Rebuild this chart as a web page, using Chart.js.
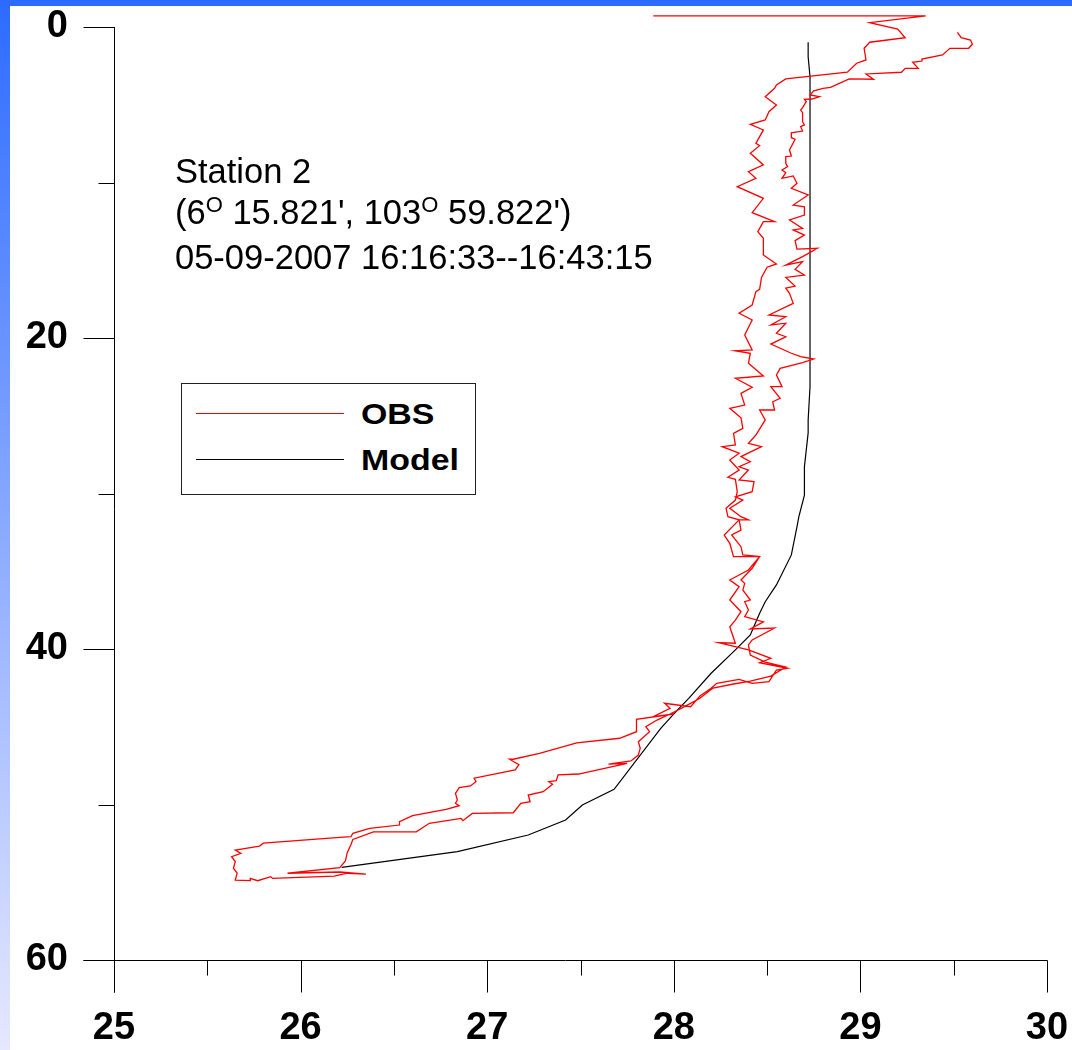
<!DOCTYPE html>
<html>
<head>
<meta charset="utf-8">
<title>Station 2 temperature profile</title>
<script src="https://cdn.jsdelivr.net/npm/chart.js@4.4.0/dist/chart.umd.min.js"></script>
<style>
	body { margin: 0; width: 1072px; height: 1050px; position: relative; overflow: hidden; background: #fff; font-family: 'Liberation Sans', Arial, sans-serif; }
	.top-bar { position: absolute; left: 0; top: 0; width: 1072px; height: 6px; background: #2d6bff; }
	.side-bar { position: absolute; left: 0; top: 0; width: 10px; height: 1050px; background: linear-gradient(#2d6bff, #e6e8ff); }
	#myChart { position: absolute; left: 0; top: 0; }
	.station-note { position: absolute; left: 175px; top: 151px; font-size: 34.5px; line-height: 41px; color: #000; white-space: nowrap; }
	.station-note .deg { font-size: 22px; position: relative; top: -12px; }
	.legend-box { position: absolute; left: 181px; top: 383px; width: 293px; height: 110px; border: 1px solid #222; background: #fff; }
	.legend-item { position: absolute; left: 0; width: 100%; height: 40px; }
	.legend-line { position: absolute; left: 14px; top: 19px; width: 148px; height: 0; }
	.legend-text { position: absolute; left: 179px; top: 0; line-height: 40px; font-size: 30px; font-weight: bold; color: #000; transform: scaleX(1.13); transform-origin: left center; }
</style>
</head>
<body>
<div class="top-bar"></div>
<div class="side-bar"></div>
<canvas id="myChart" width="1072" height="1050"></canvas>
<div class="station-note">
	Station 2<br>
	(6<span class="deg">O</span> 15.821', 103<span class="deg">O</span> 59.822')<br>
	05-09-2007 16:16:33--16:43:15
</div>
<div class="legend-box" id="legend-box"></div>

<script>
// 축 눈금
const xMajorTicks = [25, 26, 27, 28, 29, 30];
const xMinorTicks = [25.5, 26.5, 27.5, 28.5, 29.5];
const yMajorTicks = [0, 20, 40, 60];
const yMinorTicks = [10, 30, 50];

// OBS 하강 (수온, 수심)
const obsDownTemp = [
	27.89, 29.35, 29.05, 29.20, 29.24, 29.05, 29.02, 29.03, 28.98, 28.93,
	28.60, 28.55, 28.54, 28.49, 28.55, 28.51, 28.49, 28.41, 28.48, 28.44,
	28.46, 28.41, 28.48, 28.40, 28.44, 28.34, 28.48, 28.42, 28.54, 28.48,
	28.45, 28.48, 28.48, 28.55, 28.50, 28.47, 28.46, 28.44, 28.42, 28.35,
	28.42, 28.38, 28.42, 28.33, 28.41, 28.40, 28.48, 28.33, 28.42, 28.36,
	28.38, 28.30, 28.36, 28.37,
	28.32, 28.33, 28.26, 28.35, 28.30, 28.35, 28.29, 28.33, 28.34, 28.33,
	28.28, 28.29, 28.35, 28.27, 28.30, 28.32, 28.46, 28.40, 28.30, 28.35,
	28.30, 28.36, 28.33, 28.30, 28.33, 28.24, 28.40, 28.52, 28.46, 28.61,
	28.55, 28.51, 28.42, 28.35, 28.23, 28.20, 28.14,
	28.09, 27.95, 27.98, 27.89, 28.00, 27.80, 27.80, 27.71, 27.48, 27.28,
	27.14, 27.12, 27.17, 27.15, 26.93, 26.94, 26.91, 26.85, 26.83, 26.84,
	26.83, 26.85, 26.78, 26.60, 26.53, 26.53, 26.37, 26.28, 26.27, 26.21,
	25.80, 25.78, 25.65, 25.68, 25.63, 25.65, 25.64, 25.66, 25.65, 25.73,
	25.73, 25.77, 25.84, 25.85, 26.18, 26.25, 26.35, 26.21, 25.93
];
const obsDownDepth = [
	-0.71, -0.71, -0.28, 0.13, 0.69, 0.98, 1.37, 2.12, 2.33, 2.91,
	3.34, 3.73, 3.94, 4.48, 5.02, 5.45, 5.98, 6.26, 6.62, 7.48,
	7.63, 8.12, 8.87, 9.31, 9.73, 10.27, 11.02, 11.94, 12.52, 12.52,
	13.16, 13.59, 14.66, 15.24, 15.45, 16.10, 16.87, 17.02, 17.88, 18.41,
	18.84, 19.81, 20.77, 20.82, 20.98, 21.63, 22.44, 22.59, 23.17, 23.56,
	24.31, 24.52, 25.13, 25.81,
	26.13, 26.88, 26.99, 27.41, 27.85, 28.49, 28.96, 29.09, 29.88, 30.42,
	30.95, 31.49, 31.70, 32.67, 33.20, 34.06, 34.06, 34.92, 35.56, 35.99,
	36.85, 37.60, 38.14, 38.57, 39.63, 39.59, 40.06, 40.60, 40.88, 41.24,
	41.35, 42.10, 42.21, 41.95, 42.21, 42.53, 43.02,
	43.71, 43.49, 43.81, 44.35, 44.18, 44.52, 45.32, 45.74, 46.03, 46.71,
	47.09, 47.09, 47.44, 47.78, 48.31, 48.53, 48.81, 48.92, 49.28, 49.71,
	49.92, 50.08, 50.31, 50.72, 51.11, 51.32, 51.53, 51.85, 52.07, 52.11,
	52.49, 52.67, 52.93, 53.14, 53.36, 53.68, 54.10, 54.42, 54.86, 54.90,
	54.75, 54.90, 54.64, 54.75, 54.60, 54.42, 54.48, 54.34, 54.42
];

// OBS 상승
const obsUpTemp = [
	26.21, 26.24, 26.25, 26.27, 26.28, 26.39, 26.62, 26.69, 26.86, 26.87,
	26.92, 27.14, 27.18, 27.23, 27.22, 27.30, 27.35, 27.33, 27.37, 27.38,
	27.49, 27.75, 27.65, 27.77, 27.81, 27.82, 27.81, 27.84, 27.87, 27.85,
	27.91, 27.98, 28.05, 28.14,
	28.21, 28.32, 28.41, 28.52, 28.60, 28.49, 28.41, 28.40, 28.42, 28.54,
	28.41, 28.48, 28.38, 28.40, 28.38, 28.41, 28.37, 28.38, 28.36, 28.42,
	28.46, 28.37, 28.36, 28.31, 28.36, 28.35, 28.40, 28.36, 28.30, 28.37,
	28.33, 28.42, 28.43, 28.35, 28.40, 28.35, 28.41, 28.36, 28.47, 28.40,
	28.44, 28.49,
	28.46, 28.54, 28.53, 28.57, 28.52, 28.58, 28.55, 28.57, 28.69, 28.75,
	28.68, 28.63, 28.52, 28.60, 28.55, 28.60, 28.52, 28.60, 28.51, 28.64,
	28.62, 28.60, 28.65, 28.60, 28.70, 28.65, 28.69, 28.60, 28.69, 28.77,
	28.66, 28.65, 28.70, 28.64, 28.69, 28.62, 28.70, 28.70, 28.64, 28.72,
	28.63, 28.66, 28.64, 28.58, 28.60, 28.58, 28.61, 28.60, 28.60, 28.63,
	28.62, 28.65, 28.63, 28.63, 28.69, 28.68, 28.70, 28.69, 28.69, 28.68,
	28.69, 28.71, 28.70, 28.74, 28.78, 28.73, 28.75, 28.80, 28.84, 28.94,
	29.07, 29.03, 29.22, 29.24, 29.31, 29.28, 29.33, 29.33, 29.44, 29.48,
	29.58, 29.60, 29.59, 29.54, 29.52
];
const obsUpDepth = [
	54.06, 53.63, 53.10, 52.57, 52.25, 51.76, 51.76, 51.21, 50.89, 51.04,
	50.57, 50.53, 49.92, 49.82, 49.39, 49.18, 48.70, 48.53, 48.47, 48.10,
	48.04, 47.35, 47.40, 47.20, 46.82, 46.39, 45.96, 45.64, 45.32, 45.00,
	44.57, 44.18, 43.75, 43.17,
	42.51, 42.25, 42.06, 41.74, 41.16, 40.84, 40.39, 39.74, 39.42, 38.65,
	38.71, 38.26, 37.92, 37.49, 36.96, 36.85, 36.21, 35.78, 35.56, 34.81,
	34.06, 33.95, 33.42, 32.67, 32.35, 31.70, 31.70, 31.49, 30.95, 30.42,
	30.21, 29.88, 29.24, 29.13, 28.49, 28.28, 27.96, 27.63, 26.99, 26.77,
	26.24, 25.27,
	24.63, 24.63, 24.10, 23.88, 23.13, 23.13, 22.38, 21.95, 21.59, 21.35,
	21.20, 20.98, 20.39, 19.92, 19.70, 19.05, 19.16, 18.63, 18.52, 17.77,
	17.13, 16.80, 16.66, 16.10, 15.95, 15.58, 15.09, 15.31, 14.77, 14.23,
	14.28, 13.74, 13.38, 13.05, 12.95, 12.41, 12.09, 11.56, 11.45, 10.80,
	10.37, 10.05, 9.58, 9.73, 9.37, 9.20, 8.98, 8.77, 8.34, 8.30,
	7.91, 7.22, 7.12, 6.80, 6.69, 6.41, 6.30, 6.09, 5.51, 5.34,
	5.19, 4.80, 4.65, 4.63, 4.48, 4.37, 4.10, 3.94, 3.88, 3.34,
	3.36, 3.02, 2.91, 2.66, 2.66, 2.27, 2.19, 2.06, 1.80, 1.37,
	1.37, 1.11, 0.84, 0.69, 0.34
];

// 모델
const modelTemp = [
	28.72, 28.72, 28.73, 28.73, 28.72, 28.72, 28.70, 28.70, 28.67, 28.66,
	28.63, 28.55, 28.49, 28.46, 28.41, 28.33, 28.20, 28.08, 28.02, 27.93,
	27.68, 27.51, 27.42, 27.22, 26.84, 26.22
];
const modelDepth = [
	0.98, 1.91, 3.20, 23.13, 25.27, 26.10, 28.28, 30.10, 31.50, 32.14,
	33.95, 35.88, 36.96, 37.70, 39.10, 40.06, 41.56, 43.17, 43.92, 45.10,
	49.02, 50.03, 51.00, 51.96, 53.03, 54.04
];

const labelFont = { family: "'Liberation Sans', Arial, sans-serif", size: 38, weight: 'bold' };

window.onload = () => {
	renderProfileChart('myChart');
	buildLegend();
};

function toPoints(temps, depths) {
	return temps.map((t, i) => ({ x: t, y: depths[i] }));
}

// 축선과 눈금 (긴 눈금/짧은 눈금)
const profileAxes = {
	id: 'profileAxes',
	beforeDatasetsDraw(chart) {
		const { ctx, chartArea, scales } = chart;
		const x = scales.x;
		const y = scales.y;
		const ax = Math.round(chartArea.left) + 0.5;
		const ay = Math.round(chartArea.bottom) + 0.5;

		ctx.save();
		ctx.strokeStyle = '#000';
		ctx.lineWidth = 1;
		ctx.beginPath();
		ctx.moveTo(ax, Math.round(chartArea.top));
		ctx.lineTo(ax, ay + 32);
		ctx.moveTo(ax - 31, ay);
		ctx.lineTo(Math.round(chartArea.right) + 0.5, ay);

		yMajorTicks.forEach(v => {
			const py = Math.round(y.getPixelForValue(v)) + 0.5;
			ctx.moveTo(ax - 31, py);
			ctx.lineTo(ax, py);
		});
		yMinorTicks.forEach(v => {
			const py = Math.round(y.getPixelForValue(v)) + 0.5;
			ctx.moveTo(ax - 16, py);
			ctx.lineTo(ax, py);
		});
		xMajorTicks.forEach(v => {
			const px = Math.round(x.getPixelForValue(v)) + 0.5;
			ctx.moveTo(px, ay);
			ctx.lineTo(px, ay + 32);
		});
		xMinorTicks.forEach(v => {
			const px = Math.round(x.getPixelForValue(v)) + 0.5;
			ctx.moveTo(px, ay);
			ctx.lineTo(px, ay + 15);
		});
		ctx.stroke();
		ctx.restore();
	}
};

let myChartInstance = null;

function renderProfileChart(chartId) {
	const ctx = document.getElementById(chartId);
	if (!ctx) return;

	const obsPoints = toPoints(obsDownTemp.concat(obsUpTemp), obsDownDepth.concat(obsUpDepth));
	const modelPoints = toPoints(modelTemp, modelDepth);

	myChartInstance = new Chart(ctx, {
		type: 'scatter',
		data: {
			datasets: [{
				label: 'OBS',
				data: obsPoints,
				showLine: true,
				borderColor: '#ff0000',
				borderWidth: 1.3,
				pointRadius: 0,
				clip: false
			}, {
				label: 'Model',
				data: modelPoints,
				showLine: true,
				borderColor: '#000000',
				borderWidth: 1.2,
				pointRadius: 0,
				clip: false
			}]
		},
		options: {
			responsive: false,
			animation: false,
			devicePixelRatio: 1,
			layout: { padding: { left: 0, top: 27, right: 25, bottom: 0 } },
			plugins: {
				legend: { display: false },
				tooltip: { enabled: false }
			},
			scales: {
				x: {
					type: 'linear',
					min: 25,
					max: 30,
					grid: { display: false, drawTicks: false },
					border: { display: false },
					afterBuildTicks: s => { s.ticks = xMajorTicks.map(v => ({ value: v })); },
					afterFit: s => {
						s.height = 90;
						s.paddingLeft = 0;
						s.paddingRight = 0;
					},
					ticks: { font: labelFont, color: '#000', padding: 46, autoSkip: false, maxRotation: 0 }
				},
				y: {
					type: 'linear',
					reverse: true,
					min: 0,
					max: 60,
					grid: { display: false, drawTicks: false },
					border: { display: false },
					afterBuildTicks: s => { s.ticks = yMajorTicks.map(v => ({ value: v })); },
					afterFit: s => {
						s.width = 114;
						s.paddingTop = 0;
						s.paddingBottom = 0;
					},
					ticks: { font: labelFont, color: '#000', padding: 46, autoSkip: false }
				}
			}
		},
		plugins: [profileAxes]
	});
}

// 범례는 데이터셋 라벨/색상으로 만든다
function buildLegend() {
	const box = document.getElementById('legend-box');
	if (!box || !myChartInstance) return;

	const rowTops = [10, 56];
	myChartInstance.data.datasets.forEach((ds, i) => {
		const item = document.createElement('div');
		item.className = 'legend-item';
		item.style.top = rowTops[i] + 'px';

		const line = document.createElement('div');
		line.className = 'legend-line';
		line.style.borderTop = '1.5px solid ' + ds.borderColor;

		const text = document.createElement('div');
		text.className = 'legend-text';
		text.textContent = ds.label;

		item.appendChild(line);
		item.appendChild(text);
		box.appendChild(item);
	});
}
</script>
</body>
</html>
